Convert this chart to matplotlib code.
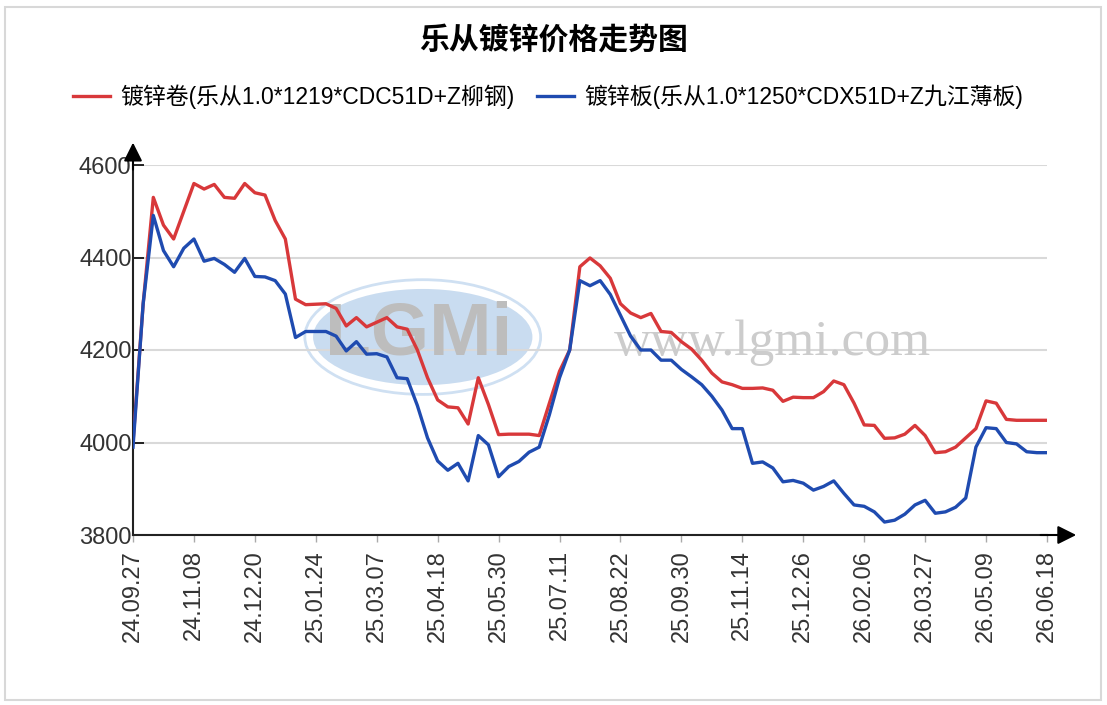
import numpy as np
import matplotlib.pyplot as plt
from matplotlib.patches import Ellipse, Rectangle

plt.rcParams['font.family'] = ['Liberation Sans', 'Noto Sans CJK SC', 'DejaVu Sans']

title = '乐从镀锌价格走势图'
coil_name = '镀锌卷(乐从1.0*1219*CDC51D+Z柳钢)'
sheet_name = '镀锌板(乐从1.0*1250*CDX51D+Z九江薄板)'

# one tick label every 6 weekly points
tick_labels = ['24.09.27', '24.11.08', '24.12.20', '25.01.24', '25.03.07', '25.04.18',
               '25.05.30', '25.07.11', '25.08.22', '25.09.30', '25.11.14', '25.12.26',
               '26.02.06', '26.03.27', '26.05.09', '26.06.18']

coil = [4000, 4300, 4530, 4470, 4440, 4500, 4560, 4548, 4558, 4530,
        4528, 4560, 4540, 4535, 4480, 4440, 4310, 4298, 4299, 4300,
        4290, 4252, 4270, 4250, 4260, 4270, 4250, 4245, 4200, 4140,
        4092, 4077, 4075, 4040, 4140, 4082, 4017, 4018, 4018, 4018,
        4015, 4085, 4154, 4200, 4380, 4399, 4382, 4355, 4300, 4280,
        4270, 4279, 4240, 4238, 4218, 4202, 4178, 4150, 4131, 4125,
        4117, 4117, 4118, 4113, 4089, 4098, 4097, 4097, 4110, 4133,
        4125, 4085, 4038, 4037, 4009, 4010, 4018, 4037, 4015, 3978,
        3980, 3990, 4010, 4030, 4090, 4085, 4050, 4048, 4048, 4048,
        4048]

sheet = [3990, 4300, 4491, 4415, 4380, 4420, 4440, 4392, 4398, 4385,
         4368, 4398, 4359, 4358, 4350, 4321, 4227, 4240, 4240, 4240,
         4230, 4198, 4218, 4191, 4192, 4185, 4140, 4138, 4080, 4010,
         3960, 3940, 3955, 3917, 4015, 3995, 3926, 3948, 3959, 3979,
         3990, 4060, 4140, 4200, 4350, 4339, 4350, 4320, 4275, 4230,
         4200, 4200, 4178, 4178, 4158, 4142, 4125, 4100, 4070, 4030,
         4030, 3955, 3958, 3945, 3915, 3918, 3912, 3897, 3905, 3917,
         3890, 3865, 3862, 3850, 3828, 3832, 3845, 3865, 3875, 3847,
         3850, 3860, 3880, 3990, 4032, 4030, 4000, 3997, 3980, 3978,
         3978]

y_ticks = [3800, 4000, 4200, 4400, 4600]

fig = plt.figure(figsize=(11.07, 7.05), dpi=100)
fig.patches.append(Rectangle((5 / 1107, 5 / 705), 1096 / 1107, 693 / 705,
                             transform=fig.transFigure, fill=False,
                             edgecolor='#d8d8d8', linewidth=1.5))

ax = fig.add_axes([133 / 1107, 1 - 535 / 705, 914 / 1107, 370 / 705])
x = np.arange(len(coil))

# watermark
ax.add_patch(Ellipse((0.317, 0.535), 0.258, 0.31, transform=ax.transAxes,
                     facecolor='none', edgecolor='#cfe0f2', linewidth=2, zorder=0))
ax.add_patch(Ellipse((0.317, 0.535), 0.24, 0.26, transform=ax.transAxes,
                     facecolor='#c9dcf0', edgecolor='none', zorder=0))
ax.text(0.313, 0.54, 'LGMi', transform=ax.transAxes, fontsize=54, fontweight='bold',
        color='#bdbdbd', ha='center', va='center', zorder=1)
ax.text(0.70, 0.52, 'www.lgmi.com', transform=ax.transAxes, fontsize=37,
        family='Liberation Serif', color='#cccccc', ha='center', va='center', zorder=1)

ax.plot(x, coil, color='#d8383a', linewidth=2.4, label=coil_name, zorder=3,
        solid_joinstyle='round')
ax.plot(x, sheet, color='#1f4bb0', linewidth=2.4, label=sheet_name, zorder=3,
        solid_joinstyle='round')

ax.set_xlim(0, len(coil) - 1)
ax.set_ylim(3800, 4600)
ax.set_yticks(y_ticks)
ax.set_xticks(np.arange(0, len(coil), 6))
ax.set_xticklabels(tick_labels, rotation=90, fontsize=17)
ax.tick_params(axis='y', direction='in', length=8, width=1.2, labelsize=17, pad=1,
               colors='black', labelcolor='#333333')
ax.tick_params(axis='x', direction='out', length=5, width=1, color='#aaaaaa',
               labelcolor='#333333', pad=6)
ax.grid(axis='y', color='#d9d9d9', linewidth=1.5)
ax.set_axisbelow(True)
for side in ['top', 'right']:
    ax.spines[side].set_visible(False)
for side in ['left', 'bottom']:
    ax.spines[side].set_linewidth(1.5)
    ax.spines[side].set_color('#222222')

ax.annotate('', xy=(1.035, 0), xytext=(0.99, 0), xycoords='axes fraction',
            arrowprops=dict(arrowstyle='-|>', color='black', lw=1.5, mutation_scale=28))
ax.annotate('', xy=(0, 1.068), xytext=(0, 0.98), xycoords='axes fraction',
            arrowprops=dict(arrowstyle='-|>', color='black', lw=1.5, mutation_scale=28))

fig.text(554 / 1107, 1 - 40 / 705, title, ha='center', va='center', fontsize=21.5,
         fontweight='bold', family=['Noto Sans CJK SC'])
fig.legend(loc='center', bbox_to_anchor=(548 / 1107, 1 - 97 / 705), ncol=2,
           frameon=False, fontsize=16.5, handlelength=1.6, handletextpad=0.45,
           columnspacing=1.0)

plt.savefig('out.png', dpi=100)
